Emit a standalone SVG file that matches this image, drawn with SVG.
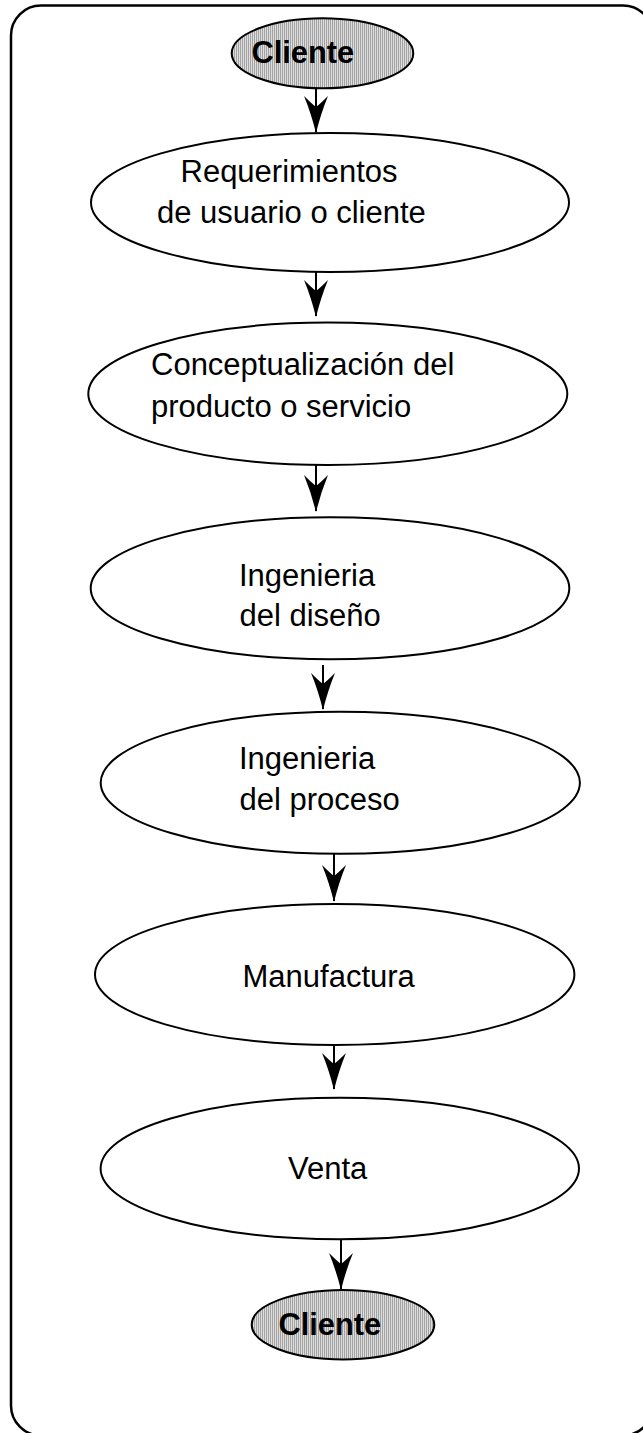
<svg xmlns="http://www.w3.org/2000/svg" width="643" height="1433" viewBox="0 0 643 1433">
<style>
.frame{fill:#fff;stroke:#000;stroke-width:2.5}
.node{fill:#fff;stroke:#000;stroke-width:2}
.term{fill:url(#stripes);stroke:#000;stroke-width:2}
.t{font-family:"Liberation Sans",Arial,sans-serif;font-size:31px;fill:#000}
.tb{font-family:"Liberation Sans",Arial,sans-serif;font-size:30.8px;font-weight:bold;fill:#000}
.edge{fill:none;stroke:#000;stroke-width:2;marker-end:url(#arr)}
</style>
<defs>
<pattern id="stripes" patternUnits="userSpaceOnUse" width="2" height="2">
<rect x="0" y="0" width="1" height="2" fill="#a2a2a2"/>
<rect x="1" y="0" width="1" height="2" fill="#dedede"/>
</pattern>
<marker id="arr" markerUnits="userSpaceOnUse" orient="auto" viewBox="-40 -14 42 28" markerWidth="42" markerHeight="28" refX="-1" refY="0" overflow="visible">
<path d="M0,0 Q-20,-5 -37,-12 Q-29,-4 -26,0 Q-29,4 -37,12 Q-20,5 0,0 Z" fill="#000"/>
</marker>
</defs>
<rect class="frame" x="11" y="5.5" width="642" height="1430" rx="30" ry="30"/>
<g id="connectors">
<path class="edge" d="M316,88 L316,132"/>
<path class="edge" d="M316,272 L316,316"/>
<path class="edge" d="M316,465 L316,511"/>
<path class="edge" d="M323,665 L323,709"/>
<path class="edge" d="M334,854 L334,901"/>
<path class="edge" d="M334,1045 L334,1089"/>
<path class="edge" d="M341,1240 L341,1289"/>
</g>
<g id="cliente-top">
<ellipse class="term" cx="322.5" cy="53.3" rx="90.8" ry="35"/>
<text class="tb" x="251.5" y="63">Cliente</text>
</g>
<g id="requerimientos">
<ellipse class="node" cx="330" cy="202.5" rx="239" ry="69.5"/>
<text class="t" x="180.5" y="182">Requerimientos</text>
<text class="t" x="157" y="223">de usuario o cliente</text>
</g>
<g id="conceptualizacion">
<ellipse class="node" cx="327.8" cy="393.8" rx="239.5" ry="71.2"/>
<text class="t" x="151" y="375">Conceptualización del</text>
<text class="t" x="151" y="417">producto o servicio</text>
</g>
<g id="ingenieria-diseno">
<ellipse class="node" cx="330" cy="588.3" rx="239.3" ry="71"/>
<text class="t" x="239" y="586">Ingenieria</text>
<text class="t" x="239.5" y="626">del diseño</text>
</g>
<g id="ingenieria-proceso">
<ellipse class="node" cx="340.3" cy="782.8" rx="239.6" ry="71"/>
<text class="t" x="239" y="769">Ingenieria</text>
<text class="t" x="239.5" y="810">del proceso</text>
</g>
<g id="manufactura">
<ellipse class="node" cx="334.7" cy="974.5" rx="239.7" ry="70.5"/>
<text class="t" x="242.5" y="987">Manufactura</text>
</g>
<g id="venta">
<ellipse class="node" cx="339.8" cy="1168.5" rx="239.2" ry="70.8"/>
<text class="t" x="288" y="1179">Venta</text>
</g>
<g id="cliente-bottom">
<ellipse class="term" cx="343" cy="1324.7" rx="91.3" ry="34.7"/>
<text class="tb" x="278.5" y="1335">Cliente</text>
</g>
</svg>
